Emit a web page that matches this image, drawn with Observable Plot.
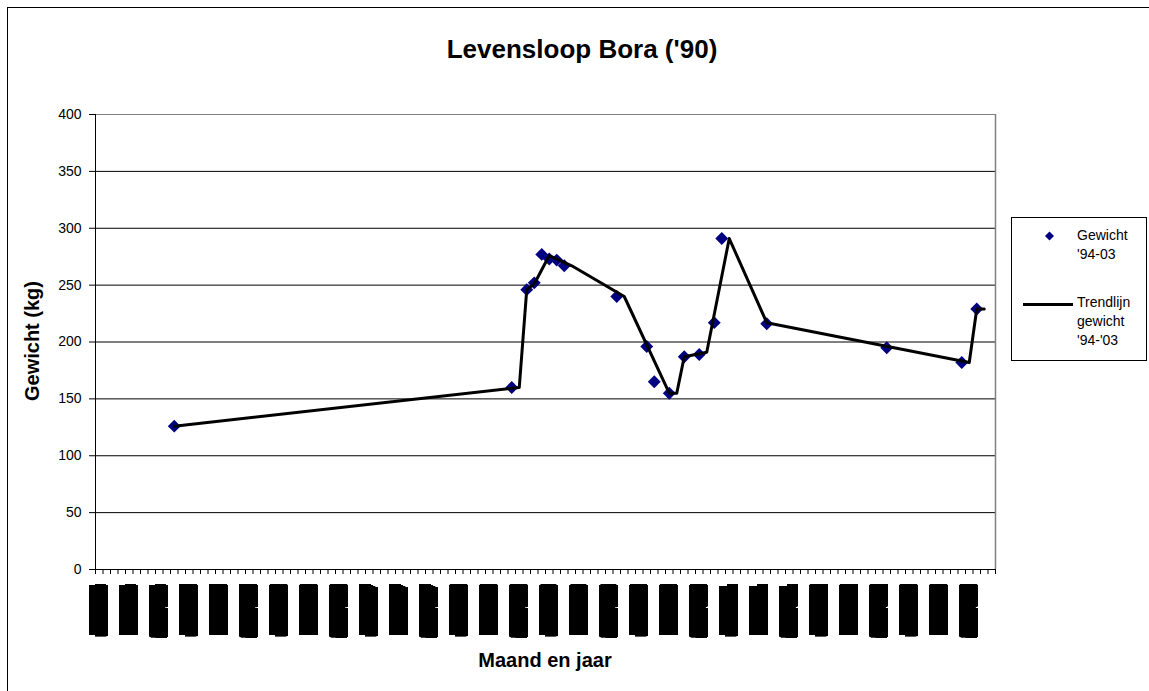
<!DOCTYPE html>
<html><head><meta charset="utf-8">
<script src="https://cdn.jsdelivr.net/npm/d3@7"></script>
<script src="https://cdn.jsdelivr.net/npm/@observablehq/plot@0.6"></script>
<style>
html,body{margin:0;padding:0;background:#fff;overflow:hidden;}
body{width:1149px;height:691px;position:relative;font-family:"Liberation Sans",Arial,sans-serif;color:#000;}
#frame{position:absolute;left:7px;top:7px;width:1300px;height:900px;border:1px solid #000;}
#chart{position:absolute;left:0;top:0;}
.t{position:absolute;white-space:nowrap;color:#000;}
#legend{position:absolute;left:1011px;top:217px;width:134px;height:142px;border:1px solid #000;background:#fff;}
</style></head><body>
<div id="frame"></div>
<div id="chart"></div>
<div class="t" style="left:582px;top:35.5px;font-size:26px;line-height:26px;font-weight:bold;transform:translateX(-50%);">Levensloop Bora ('90)</div>
<div class="t" style="left:32px;top:341px;font-size:20px;line-height:20px;font-weight:bold;transform:translate(-50%,-50%) rotate(-90deg);">Gewicht (kg)</div>
<div class="t" style="left:545px;top:660px;font-size:20px;line-height:20px;font-weight:bold;transform:translate(-50%,-50%);">Maand en jaar</div>
<div id="legend"></div>
<script>
// X categories: months from jan-94 to dec-03
const monthNames = ["jan","feb","mrt","apr","mei","jun","jul","aug","sep","okt","nov","dec"];
const yearLabels = ["94","95","96","97","98","99","00","01","02","03"];
const categories = yearLabels.flatMap(y => monthNames.map(m => `${m}-${y}`));

// Weight measurements ("Gewicht '94-03")
const weightDates = ["nov-94","aug-98","okt-98","nov-98","dec-98","jan-99","feb-99","mrt-99","okt-99","feb-00","mrt-00","mei-00","jul-00","sep-00","nov-00","dec-00","jun-01","okt-02","aug-03","okt-03"];
const weightKg    = [126,160,246,252,277,273,272,267,240,196,165,155,187,189,217,291,216,195,182,229];

// Trend line ("Trendlijn gewicht '94-'03")
const trendDates = ["nov-94","sep-98","okt-98","nov-98","jan-99","apr-99","nov-99","mei-00","jun-00","jul-00","okt-00","jan-01","jun-01","sep-03","okt-03","nov-03"];
const trendKg    = [126,160,246,251,276,267,240,155,155,187,191,291,217,182,229,229];

const yTicks = [0,50,100,150,200,250,300,350,400];
const labelEvery = 4;

const pos = d => categories.indexOf(d) + 0.5;
const points = weightDates.map((d,i) => ({x: pos(d), y: weightKg[i]}));
const trend = trendDates.map((d,i) => ({x: pos(d), y: trendKg[i]}));

const chart = Plot.plot({
  width: 1149, height: 691,
  marginLeft: 95, marginRight: 154, marginTop: 114, marginBottom: 122,
  style: {fontFamily: "Liberation Sans, Arial, sans-serif", fontSize: "14px", background: "transparent", color: "#000"},
  x: {domain: [0, categories.length]},
  y: {domain: [0, 400]},
  marks: [
    Plot.gridY(yTicks.slice(1, -1), {stroke: "#000", strokeOpacity: 1}),
    Plot.ruleY([400], {stroke: "#808080"}),
    Plot.ruleX([categories.length], {stroke: "#808080", strokeWidth: 1.5}),
    Plot.ruleX([0], {stroke: "#000"}),
    Plot.ruleY([0], {stroke: "#000"}),
    Plot.axisY(yTicks, {tickSize: 6, tickPadding: 8, label: null, fontSize: 14}),
    Plot.axisX(d3.range(0, categories.length + 1), {tickSize: 5, tickFormat: () => "", label: null}),
    Plot.axisX(d3.range(0, categories.length, labelEvery).map(i => i + 0.5), {
      tickSize: 0, tickPadding: 19, tickRotate: -90, fontSize: 13, label: null,
      tickFormat: v => categories[Math.floor(v)]
    }),
    Plot.dot(points, {x: "x", y: "y", symbol: "diamond2", r: 5.8, fill: "#000080", stroke: "none"}),
    Plot.line(trend, {x: "x", y: "y", stroke: "#000", strokeWidth: 3})
  ]
});
document.getElementById("chart").appendChild(chart);

// The x tick labels in the original render as solid black blocks: dilate the real text
const svg = d3.select(chart);
const defs = svg.insert("defs", ":first-child");
const f = defs.append("filter").attr("id", "blockify")
  .attr("x", "-10%").attr("y", "-60%").attr("width", "120%").attr("height", "220%");
f.append("feMorphology").attr("operator", "dilate").attr("radius", "5 5").attr("in", "SourceAlpha").attr("result", "d");
f.append("feComponentTransfer").attr("in", "d")
  .append("feFuncA").attr("type", "linear").attr("slope", 4);
svg.selectAll('g[aria-label="x-axis tick label"]')
  .attr("filter", "url(#blockify)")
  .style("text-transform", "uppercase");

// Legend
const legend = document.getElementById("legend");
legend.innerHTML = `
<svg width="134" height="142" style="position:absolute;left:0;top:0;overflow:visible">
  <path d="M37.5,13.5 L42,18 L37.5,22.5 L33,18 Z" fill="#000080"/>
  <line x1="11" x2="61" y1="86.5" y2="86.5" stroke="#000" stroke-width="3"/>
</svg>
<div class="t" style="left:65px;top:7.5px;font-size:14px;line-height:19px;">Gewicht<br>'94-03</div>
<div class="t" style="left:65px;top:74.5px;font-size:14px;line-height:19px;">Trendlijn<br>gewicht<br>'94-'03</div>`;
</script>
</body></html>
